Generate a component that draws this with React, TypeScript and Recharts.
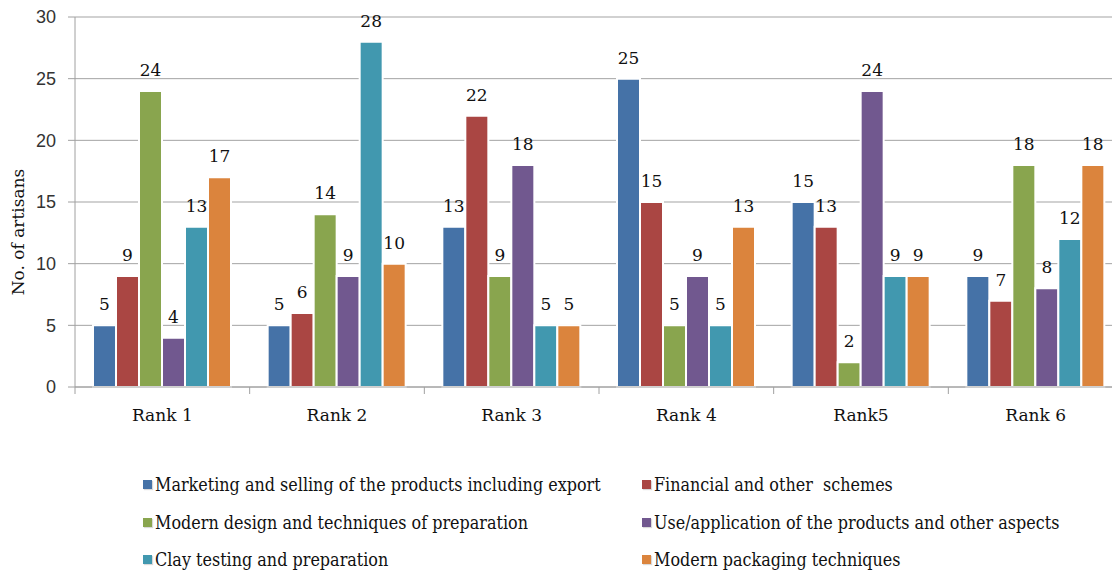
import React from 'react';
import { BarChart, Bar, XAxis, YAxis, CartesianGrid, LabelList } from 'recharts';

const categories = ['Rank 1', 'Rank 2', 'Rank 3', 'Rank 4', 'Rank5', 'Rank 6'];
const seriesNames = [
  'Marketing and selling of the products including export',
  'Financial and other  schemes',
  'Modern design and techniques of preparation',
  'Use/application of the products and other aspects',
  'Clay testing and preparation',
  'Modern packaging techniques',
];
const marketing = [5, 5, 13, 25, 15, 9];
const financial = [9, 6, 22, 15, 13, 7];
const design = [24, 14, 9, 5, 2, 18];
const useApplication = [4, 9, 18, 9, 24, 8];
const clay = [13, 28, 5, 5, 9, 12];
const packaging = [17, 10, 5, 13, 9, 18];
const yTicks = [0, 5, 10, 15, 20, 25, 30];
const colors = ['#4572A7', '#AA4643', '#89A54E', '#71588F', '#4198AF', '#DB843D'];
const yAxisTitle = 'No. of artisans';

const seriesValues = [marketing, financial, design, useApplication, clay, packaging];
const keys = ['s0', 's1', 's2', 's3', 's4', 's5'];

const data = categories.map((name, i) => {
  const row: Record<string, string | number> = { name };
  keys.forEach((k, j) => {
    row[k] = seriesValues[j][i];
  });
  return row;
});

const SERIF = 'DejaVu Serif';
const SANS = 'Liberation Sans';

const XTick = (props: any) => {
  const { x, y, payload } = props;
  const off = payload && payload.offset != null ? payload.offset : 87.3;
  return (
    <g>
      <line x1={x - off} y1={y} x2={x - off} y2={y + 7} stroke="#a0a0a0" strokeWidth={1} />
      <text x={x} y={y + 34} textAnchor="middle" style={{ fontFamily: SERIF, fontSize: 17 }} fill="#111">
        {payload.value}
      </text>
    </g>
  );
};

const YTitle = (props: any) => {
  const vb = props.viewBox || { x: 0, y: 17, width: 75, height: 370 };
  const cx = vb.x + 18;
  const cy = vb.y + vb.height / 2 + 30;
  return (
    <text
      x={cx}
      y={cy}
      transform={`rotate(-90, ${cx}, ${cy})`}
      textAnchor="middle"
      dominantBaseline="central"
      style={{ fontFamily: SERIF, fontSize: 17 }}
      fill="#111"
    >
      {yAxisTitle}
    </text>
  );
};

export default function App() {
  return (
    <div
      style={{
        position: 'absolute',
        left: 0,
        top: 0,
        width: 1112,
        height: 572,
        overflow: 'hidden',
        background: '#fff',
      }}
    >
      <BarChart
        width={1123}
        height={440}
        data={data}
        margin={{ top: 17, right: 0, bottom: 0, left: 0 }}
        barCategoryGap={18}
        barGap={0}
      >
        <CartesianGrid vertical={false} stroke="#a3a3a3" strokeWidth={1} />
        <XAxis
          dataKey="name"
          tickSize={0}
          tickMargin={0}
          tick={XTick}
          tickLine={false}
          axisLine={{ stroke: '#a0a0a0' }}
          interval={0}
          height={53}
        />
        <YAxis
          width={75}
          domain={[0, 30]}
          ticks={yTicks}
          tickSize={7}
          tickMargin={12}
          tickLine={{ stroke: '#a0a0a0' }}
          axisLine={{ stroke: '#a0a0a0' }}
          tick={{ fontFamily: SANS, fontSize: 18, fill: '#333' }}
          label={<YTitle />}
        />
        {keys.map((k, j) => (
          <Bar
            key={k}
            dataKey={k}
            name={seriesNames[j]}
            fill={colors[j]}
            stroke="#ffffff"
            strokeWidth={2}
            isAnimationActive={false}
          >
            <LabelList
              dataKey={k}
              position="top"
              offset={15}
              style={{ fontFamily: SERIF, fontSize: 17, fill: '#111' }}
            />
          </Bar>
        ))}
      </BarChart>
      <div
        style={{
          position: 'absolute',
          left: 143,
          top: 466,
          display: 'grid',
          gridTemplateColumns: '499px 460px',
          rowGap: 0,
          fontFamily: SERIF,
          fontSize: 16,
          color: '#111',
        }}
      >
        {seriesNames.map((n, j) => (
          <div
            key={n}
            style={{ display: 'flex', alignItems: 'center', height: 37.5, whiteSpace: 'pre' }}
          >
            <span
              style={{
                display: 'inline-block',
                width: 9,
                height: 9,
                background: colors[j],
                marginRight: 3,
                boxShadow: '1px 1px 1px rgba(0,0,0,0.15)',
              }}
            />
            <span style={{ display: 'inline-block', transform: 'scaleY(1.15)' }}>{n}</span>
          </div>
        ))}
      </div>
    </div>
  );
}
